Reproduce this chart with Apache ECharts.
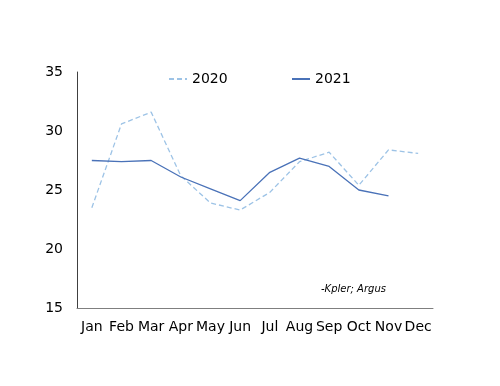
<!DOCTYPE html>
<html><head><meta charset="utf-8">
<script src="https://cdn.jsdelivr.net/npm/echarts@6/dist/echarts.min.js"></script>
<style>html,body{margin:0;padding:0;background:#fff}#c{width:500px;height:386px}</style>
</head><body><div id="c"></div>
<script>
const categories = ['Jan','Feb','Mar','Apr','May','Jun','Jul','Aug','Sep','Oct','Nov','Dec'];
const yTicks = [15,20,25,30,35];
const s2020 = [23.5,30.6,31.6,26.2,23.9,23.3,24.8,27.4,28.2,25.4,28.4,28.1];
const s2021 = [27.5,27.4,27.5,26.1,25.1,24.1,26.5,27.7,27.0,25.0,24.5,null];
const chart = echarts.init(document.getElementById('c'));
const font = 'DejaVu Sans';
const legendCommon = {top:67,itemWidth:18,itemHeight:10,itemGap:3,itemStyle:{opacity:0},textStyle:{fontFamily:font,fontSize:14,color:'#000'}};
chart.setOption({
  animation:false,
  grid:{left:77,right:67,top:72,bottom:78},
  legend:[
    Object.assign({data:['2020'],left:163},legendCommon),
    Object.assign({data:['2021'],left:286},legendCommon)
  ],
  xAxis:{type:'category',data:categories,boundaryGap:true,
    axisLine:{lineStyle:{color:'#7f7f7f',width:1}},axisTick:{show:false},
    axisLabel:{fontFamily:font,fontSize:14,color:'#000',margin:12,interval:0}},
  yAxis:{type:'value',min:yTicks[0],max:yTicks[yTicks.length-1],interval:5,
    axisLine:{show:true,lineStyle:{color:'#404040',width:1}},axisTick:{show:false},splitLine:{show:false},
    axisLabel:{fontFamily:font,fontSize:14,color:'#000',margin:14}},
  series:[
    {name:'2020',type:'line',data:s2020,symbol:'none',lineStyle:{color:'#9dc3e6',width:1.3,type:[5,3]},itemStyle:{color:'#9dc3e6'}},
    {name:'2021',type:'line',data:s2021,symbol:'none',lineStyle:{color:'#4a72b8',width:1.3},itemStyle:{color:'#4a72b8'}}
  ],
  graphic:[{type:'text',left:321,top:284,style:{text:'-Kpler; Argus',font:'italic 10px "DejaVu Sans"',fill:'#000'}}]
});
</script></body></html>
